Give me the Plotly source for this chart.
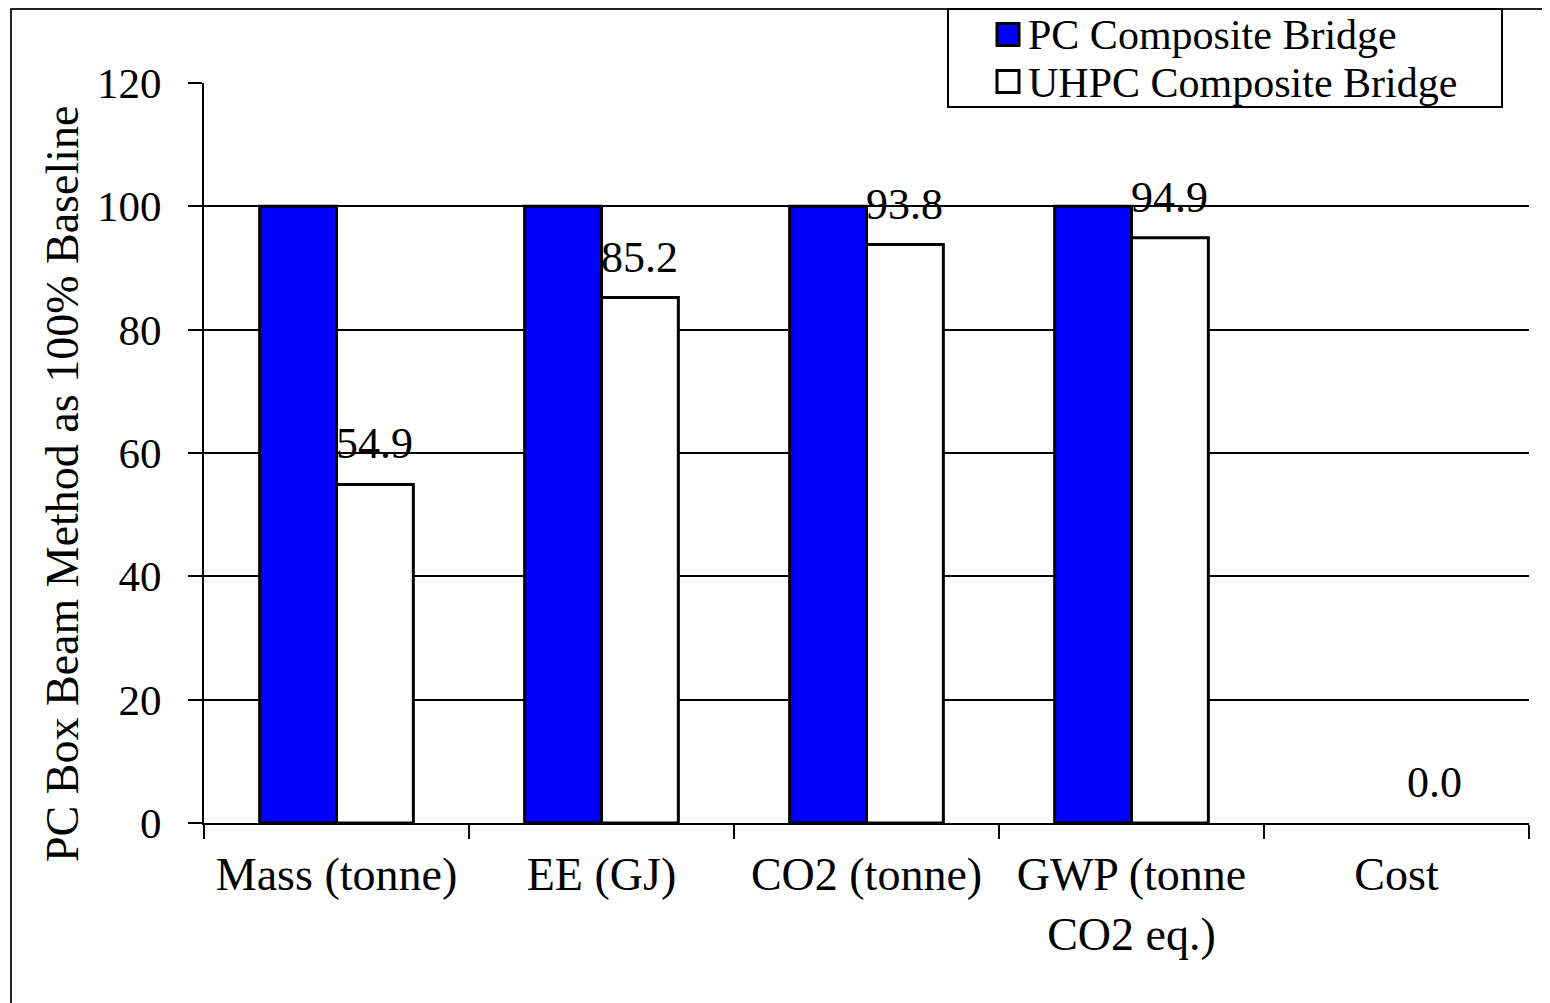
import plotly.graph_objects as go

categories = ["Mass (tonne)", "EE (GJ)", "CO2 (tonne)", "GWP (tonne<br>CO2 eq.)", "Cost"]
pc_values = [100, 100, 100, 100, 0]
uhpc_values = [54.9, 85.2, 93.8, 94.9, 0.0]
series_names = ["PC Composite Bridge", "UHPC Composite Bridge"]
series_colors = ["#0000ff", "white"]
y_ticks = [0, 20, 40, 60, 80, 100, 120]
y_title = "PC Box Beam Method as 100% Baseline"

# page body has an 8px margin: figure occupies screen x 8..1550, y 8..1003
OFF = 8
W, H = 1550 - OFF, 1003 - OFF
L, R, T, B = 204 - OFF, 21, 83 - OFF, 180
PW, PH = W - L - R, H - T - B
BARGAP = 0.42

def px(x):  # screen x -> paper
    return (x - OFF - L) / PW

def py(y):  # screen y -> paper
    return (H - B - (y - OFF)) / PH

FONT = "Liberation Serif, Times New Roman, serif"

fig = go.Figure()
for name, vals, col in zip(series_names, [pc_values, uhpc_values], series_colors):
    fig.add_trace(go.Bar(
        x=categories, y=vals, name=name,
        marker=dict(color=col,
                    line=dict(color="black", width=[3 if v > 0 else 0 for v in vals])),
        showlegend=False,
    ))

# data labels above the UHPC bars
cat_px = PW / len(categories)
bar_px = cat_px * (1 - BARGAP) / 2
annotations = []
for c, v in zip(categories, uhpc_values):
    annotations.append(dict(
        x=c, y=v, xref="x", yref="y", text=f"{v:.1f}", showarrow=False,
        xanchor="center", yanchor="bottom", xshift=bar_px / 2, yshift=14,
        font=dict(family=FONT, size=44, color="black"),
    ))
# y-axis title
annotations.append(dict(
    x=px(62), y=py(484), xref="paper", yref="paper", text=y_title,
    textangle=-90, showarrow=False, xanchor="center", yanchor="middle",
    font=dict(family=FONT, size=46, color="black"),
))

shapes = [dict(type="rect", xref="paper", yref="paper",
               x0=px(11), x1=px(1600), y0=py(9), y1=py(1050),
               line=dict(color="#222222", width=2), layer="below")]

# legend box (drawn as shapes + text)
shapes.append(dict(type="rect", xref="paper", yref="paper",
                   x0=px(948), x1=px(1502), y0=py(9), y1=py(107),
                   line=dict(color="black", width=2), fillcolor="white", layer="above"))
for i, (name, col) in enumerate(zip(series_names, series_colors)):
    yc = 34.5 + 47 * i
    shapes.append(dict(type="rect", xref="paper", yref="paper",
                       x0=px(997), x1=px(1019), y0=py(yc - 11), y1=py(yc + 11),
                       line=dict(color="black", width=3), fillcolor=col, layer="above"))
    annotations.append(dict(
        x=px(1026), y=py(yc + 1), xref="paper", yref="paper", text=name,
        showarrow=False, xanchor="left", yanchor="middle",
        font=dict(family=FONT, size=42, color="black"),
    ))

fig.update_layout(
    width=W, height=H,
    margin=dict(l=L, r=R, t=T, b=B, autoexpand=False),
    paper_bgcolor="white", plot_bgcolor="white",
    font=dict(family=FONT, size=42, color="black"),
    barmode="group", bargap=BARGAP, bargroupgap=0,
    showlegend=False,
    annotations=annotations,
    shapes=shapes,
    xaxis=dict(
        showline=True, linecolor="black", linewidth=2,
        ticks="outside", ticklen=14, tickwidth=2, tickcolor="black",
        tickson="boundaries", showgrid=False, ticklabelstandoff=10,
        tickfont=dict(family=FONT, size=46, color="black"), automargin=False,
    ),
    yaxis=dict(
        range=[0, 120], tickvals=y_ticks,
        showline=True, linecolor="black", linewidth=2,
        ticks="outside", ticklen=14, tickwidth=2, tickcolor="black",
        showgrid=True, gridcolor="black", gridwidth=1.5,
        zeroline=False, ticklabelstandoff=18,
        tickfont=dict(family=FONT, size=43, color="black"), automargin=False,
    ),
)

fig.write_html("out.html")
